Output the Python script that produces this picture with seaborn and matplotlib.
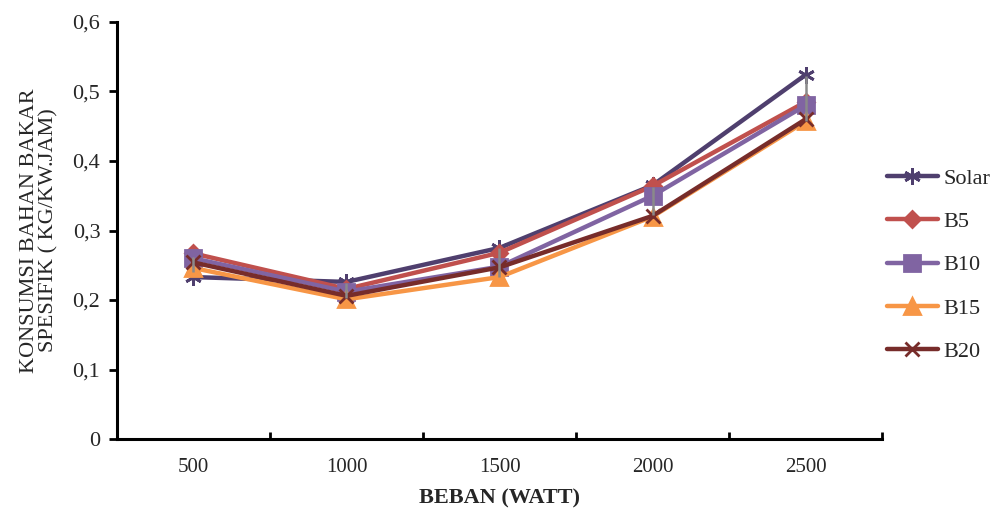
import matplotlib
matplotlib.use("Agg")
import matplotlib.pyplot as plt
import seaborn as sns
import pandas as pd
import numpy as np

categories = ["500", "1000", "1500", "2000", "2500"]
solar = [0.233, 0.226, 0.275, 0.365, 0.524]
b5 = [0.267, 0.216, 0.268, 0.364, 0.485]
b10 = [0.260, 0.212, 0.248, 0.350, 0.480]
b15 = [0.246, 0.201, 0.233, 0.320, 0.457]
b20 = [0.254, 0.206, 0.247, 0.321, 0.460]
range_high = [0.262, 0.224, 0.275, 0.362, 0.523]
range_low = [0.240, 0.203, 0.233, 0.322, 0.458]
series_names = ["Solar", "B5", "B10", "B15", "B20"]
y_ticks = [0, 0.1, 0.2, 0.3, 0.4, 0.5, 0.6]
y_tick_labels = ["0", "0,1", "0,2", "0,3", "0,4", "0,5", "0,6"]

sns.set_theme(style="white")
plt.rcParams['font.family'] = ['Liberation Serif', 'DejaVu Serif']

series_values = [solar, b5, b10, b15, b20]
rows = []
for name, vals in zip(series_names, series_values):
    for i, v in enumerate(vals):
        rows.append({"pos": i, "value": v, "series": name})
df = pd.DataFrame(rows)

palette = {"Solar": "#4F3F6E", "B5": "#C0504D", "B10": "#8064A2",
           "B15": "#F79646", "B20": "#772C2A"}
markers = {"Solar": (6, 2, 0), "B5": "D", "B10": "s", "B15": "^", "B20": "x"}
msizes = {"Solar": 12, "B5": 8, "B10": 11, "B15": 11, "B20": 10}

fig = plt.figure(figsize=(9.98, 5.08), dpi=100)
ax = fig.add_axes([0.1172, 0.1358, 0.7666, 0.8209])

for name in series_names:
    sub = df[df["series"] == name]
    c = palette[name]
    sns.lineplot(data=sub, x="pos", y="value", color=c, marker=markers[name],
                 markersize=msizes[name], markeredgecolor=c, markerfacecolor=c,
                 markeredgewidth=2, linewidth=3.2, sort=False, label=name, ax=ax)

ax.vlines(range(len(categories)), range_low, range_high, colors="#8A8A8A",
          linewidth=1.8, zorder=5)

ax.set_xlim(-0.5, 4.5)
ax.set_ylim(0, 0.6)
ax.set_yticks(y_ticks)
ax.set_yticklabels(y_tick_labels, fontsize=16)
ax.set_xticks(range(len(categories)))
ax.set_xticklabels(categories, fontsize=15)
ax.set_xticks(np.arange(-0.5, 4.6, 1.0), minor=True)
ax.tick_params(axis="x", which="major", length=0, pad=14)
ax.tick_params(axis="x", which="minor", direction="in", length=5, width=2, color="black", bottom=True)
ax.tick_params(axis="y", which="major", direction="out", length=6, width=2, color="black", pad=6, left=True)

for s in ["top", "right"]:
    ax.spines[s].set_visible(False)
for s in ["left", "bottom"]:
    ax.spines[s].set_color("black")
    ax.spines[s].set_linewidth(2.2)

ax.set_xlabel("BEBAN (WATT)", fontsize=16, fontweight="bold", labelpad=8)
ax.set_ylabel("KONSUMSI BAHAN BAKAR\nSPESIFIK ( KG/KW.JAM)", fontsize=16, labelpad=10,
              linespacing=1.0)

handles, labels = ax.get_legend_handles_labels()
ax.get_legend().remove()
leg = fig.legend(handles, labels, loc="center left", bbox_to_anchor=(0.884, 0.478),
                 frameon=False, fontsize=16, handlelength=2.3, labelspacing=1.02,
                 handletextpad=0.25, borderaxespad=0.0, borderpad=0.2)

fig.savefig("out.png", dpi=100)
